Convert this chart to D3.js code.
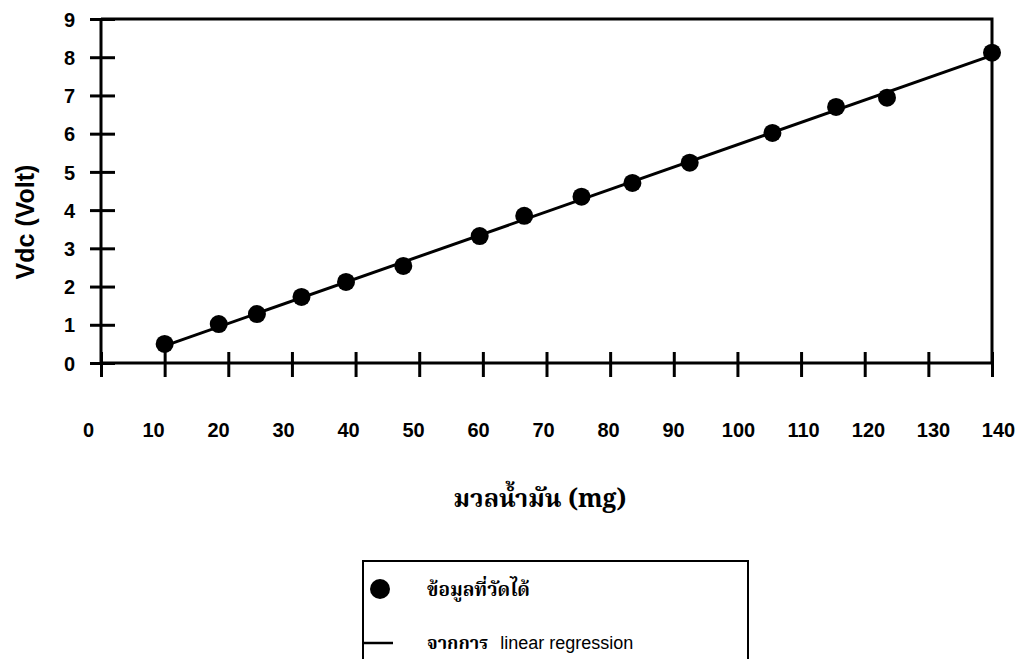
<!DOCTYPE html>
<html>
<head>
<meta charset="utf-8">
<script src="https://cdn.jsdelivr.net/npm/d3@7"></script>
<style>
  body { margin: 0; background: #fff; }
  svg { display: block; }
  .lab { font-family: "Liberation Sans", Arial, sans-serif; font-weight: bold; }
  .thai { font-family: "Noto Serif Thai", "Noto Sans Thai", "Loma", "Garuda", "Norasi", serif; font-weight: bold; }
</style>
</head>
<body>
<div id="chart"></div>
<script>
// measured points: mass of oil (mg) vs Vdc (Volt)
const massMg = [10, 18.5, 24.5, 31.5, 38.5, 47.5, 59.5, 66.5, 75.5, 83.5, 92.5, 105.5, 115.5, 123.5, 140];
const vdc = [0.5, 1.02, 1.28, 1.73, 2.12, 2.54, 3.32, 3.85, 4.35, 4.71, 5.24, 6.02, 6.70, 6.94, 8.12];
// regression line end points
const fitMass = [10, 140];
const fitVdc = [0.45, 8.05];
const xTicks = [0, 10, 20, 30, 40, 50, 60, 70, 80, 90, 100, 110, 120, 130, 140];
const yTicks = [0, 1, 2, 3, 4, 5, 6, 7, 8, 9];

const W = 1026, H = 659;
const pLeft = 101, pRight = 992, pTop = 19, pBottom = 363;

const svg = d3.select("#chart").append("svg")
    .attr("width", W)
    .attr("height", H);

const x = d3.scaleLinear().domain([0, 140]).range([pLeft, pRight]);
const y = d3.scaleLinear().domain([0, 9]).range([pBottom, pTop]);
// tick labels sit on a slightly wider spacing than the tick marks
const xLab = d3.scaleLinear().domain([0, 140]).range([88, 998]);

// frame top and right
svg.append("path")
    .attr("d", `M${pLeft},${pTop}H${pRight}V${pBottom}`)
    .attr("fill", "none")
    .attr("stroke", "#000")
    .attr("stroke-width", 3);

// y axis, ticks crossing the line
const gy = svg.append("g")
    .attr("transform", `translate(${pLeft},0)`)
    .call(d3.axisLeft(y).tickValues(yTicks).tickSize(11).tickFormat(""));
gy.select(".domain").attr("stroke-width", 3).attr("d", `M0,${pTop}V${pBottom}`);
gy.selectAll(".tick line").attr("x1", 14).attr("stroke-width", 3);

gy.selectAll(".tick").append("text")
    .attr("class", "lab")
    .attr("x", -26)
    .attr("dy", "0.36em")
    .attr("text-anchor", "end")
    .attr("fill", "#000")
    .style("font-size", "20px")
    .text(d => d);

// x axis, ticks crossing the line
const gx = svg.append("g")
    .attr("transform", `translate(0,${pBottom})`)
    .call(d3.axisBottom(x).tickValues(xTicks).tickSize(14).tickFormat(""));
gx.select(".domain").attr("stroke-width", 3).attr("d", `M${pLeft},0H${pRight}`);
gx.selectAll(".tick line").attr("y1", -11).attr("stroke-width", 3);

// x tick labels
const gxl = svg.append("g")
    .attr("transform", `translate(0,430)`)
    .call(d3.axisBottom(xLab).tickValues(xTicks).tickSize(0));
gxl.select(".domain").remove();
gxl.selectAll("text")
    .attr("class", "lab")
    .attr("y", 0)
    .attr("dy", "0.36em")
    .attr("fill", "#000")
    .style("font-size", "20px");

// axis titles
svg.append("text")
    .attr("class", "lab")
    .attr("transform", "translate(34,222) rotate(-90)")
    .attr("text-anchor", "middle")
    .style("font-size", "25px")
    .text("Vdc (Volt)");

svg.append("text")
    .attr("class", "thai")
    .attr("x", 540)
    .attr("y", 507)
    .attr("text-anchor", "middle")
    .style("font-size", "25px")
    .text("มวลน้ำมัน (mg)");

// regression line
const line = d3.line().x(d => x(d[0])).y(d => y(d[1]));
svg.append("path")
    .datum(d3.zip(fitMass, fitVdc))
    .attr("d", line)
    .attr("fill", "none")
    .attr("stroke", "#000")
    .attr("stroke-width", 3);

// measured points
svg.append("g")
    .selectAll("circle")
    .data(d3.zip(massMg, vdc))
    .join("circle")
    .attr("cx", d => x(d[0]))
    .attr("cy", d => y(d[1]))
    .attr("r", 9)
    .attr("fill", "#000");

// legend
const lg = svg.append("g");
lg.append("rect")
    .attr("x", 363).attr("y", 561)
    .attr("width", 385).attr("height", 120)
    .attr("fill", "none")
    .attr("stroke", "#000")
    .attr("stroke-width", 2);
lg.append("circle")
    .attr("cx", 380).attr("cy", 589)
    .attr("r", 10)
    .attr("fill", "#000");
lg.append("text")
    .attr("class", "thai")
    .attr("x", 427).attr("y", 589)
    .attr("dy", "0.35em")
    .style("font-size", "19px")
    .text("ข้อมูลที่วัดได้");
lg.append("line")
    .attr("x1", 362).attr("x2", 393)
    .attr("y1", 643).attr("y2", 643)
    .attr("stroke", "#000")
    .attr("stroke-width", 2.5);
const t2 = lg.append("text")
    .attr("x", 427).attr("y", 643)
    .attr("dy", "0.35em")
    .style("font-size", "18px");
t2.append("tspan").attr("class", "thai").text("จากการ");
t2.append("tspan").attr("class", "lab").style("font-weight", "normal").attr("dx", 12).text("linear regression");
</script>
</body>
</html>
